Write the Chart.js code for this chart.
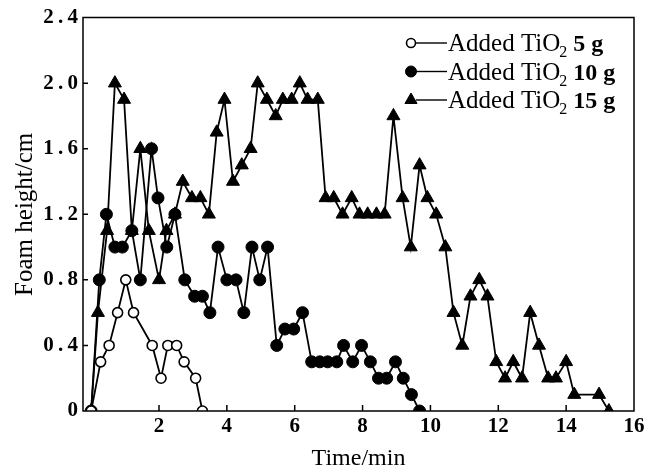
<!DOCTYPE html>
<html>
<head>
<meta charset="utf-8">
<script src="https://cdn.jsdelivr.net/npm/chart.js@4.4.1/dist/chart.umd.min.js"></script>
<style>
  html, body { margin: 0; padding: 0; background: #fff; }
</style>
</head>
<body>
<canvas id="foamChart" width="656" height="474"></canvas>
<script>
// TiO2 5 g
const time5 = [0, 0.28, 0.53, 0.78, 1.02, 1.25, 1.8, 2.06, 2.26, 2.52, 2.74, 3.08, 3.28];
const foam5 = [0, 0.3, 0.4, 0.6, 0.8, 0.6, 0.4, 0.2, 0.4, 0.4, 0.3, 0.2, 0];

// TiO2 10 g
const time10 = [0, 0.24, 0.45, 0.7, 0.92, 1.2, 1.45, 1.78, 1.97, 2.23, 2.47, 2.76, 3.05, 3.28, 3.5,
  3.74, 4.0, 4.27, 4.5, 4.74, 4.97, 5.2, 5.47, 5.71, 5.97, 6.23, 6.5, 6.74, 6.97, 7.24, 7.44,
  7.71, 7.97, 8.23, 8.47, 8.71, 8.97, 9.2, 9.44, 9.68];
const foam10 = [0, 0.8, 1.2, 1.0, 1.0, 1.1, 0.8, 1.6, 1.3, 1.0, 1.2, 0.8, 0.7, 0.7, 0.6,
  1.0, 0.8, 0.8, 0.6, 1.0, 0.8, 1.0, 0.4, 0.5, 0.5, 0.6, 0.3, 0.3, 0.3, 0.3, 0.4,
  0.3, 0.4, 0.3, 0.2, 0.2, 0.3, 0.2, 0.1, 0];

// TiO2 15 g
const time15 = [0, 0.2, 0.47, 0.7, 0.97, 1.2, 1.45, 1.7, 2.0, 2.22, 2.47, 2.7, 2.97, 3.22, 3.47,
  3.7, 3.93, 4.18, 4.44, 4.7, 4.91, 5.18, 5.44, 5.65, 5.91, 6.15, 6.38, 6.68, 6.91, 7.15,
  7.41, 7.68, 7.91, 8.15, 8.41, 8.65, 8.91, 9.18, 9.42, 9.68, 9.91, 10.17, 10.44, 10.68,
  10.94, 11.18, 11.44, 11.68, 11.94, 12.2, 12.44, 12.7, 12.94, 13.2, 13.47, 13.7, 14.0,
  14.24, 14.97, 15.26];
const foam15 = [0, 0.6, 1.1, 2.0, 1.9, 1.1, 1.6, 1.1, 0.8, 1.1, 1.2, 1.4, 1.3, 1.3, 1.2,
  1.7, 1.9, 1.4, 1.5, 1.6, 2.0, 1.9, 1.8, 1.9, 1.9, 2.0, 1.9, 1.9, 1.3, 1.3,
  1.2, 1.3, 1.2, 1.2, 1.2, 1.2, 1.8, 1.3, 1.0, 1.5, 1.3, 1.2, 1.0, 0.6,
  0.4, 0.7, 0.8, 0.7, 0.3, 0.2, 0.3, 0.2, 0.6, 0.4, 0.2, 0.2, 0.3,
  0.1, 0.1, 0];

const seriesAmounts = ['5 g', '10 g', '15 g'];
const xTicks = [2, 4, 6, 8, 10, 12, 14, 16];
const yTicks = [0, 0.4, 0.8, 1.2, 1.6, 2.0, 2.4];

const serif = "'Liberation Serif', 'Times New Roman', serif";

function points(xs, ys) {
  return xs.map((x, i) => ({ x, y: ys[i] }));
}

// box round the plot, inward ticks, and the legend with a subscript in TiO2
const decorPlugin = {
  id: 'plotDecor',
  afterDatasetsDraw(chart) {
    const c = chart.ctx;
    const a = chart.chartArea;
    const sx = chart.scales.x;
    const sy = chart.scales.y;

    c.save();
    c.strokeStyle = '#000';
    c.lineWidth = 1.5;
    c.beginPath();
    c.rect(a.left, a.top, a.right - a.left, a.bottom - a.top);
    yTicks.forEach((v) => {
      const y = sy.getPixelForValue(v);
      c.moveTo(a.left, y);
      c.lineTo(a.left + 5, y);
    });
    xTicks.forEach((v) => {
      const x = sx.getPixelForValue(v);
      c.moveTo(x, a.bottom);
      c.lineTo(x, a.bottom - 6);
    });
    c.stroke();

    chart.data.datasets.forEach((ds, i) => {
      const y = 43 + i * 28.5;
      const mx = 411;
      c.strokeStyle = '#000';
      c.lineWidth = 1.4;
      c.beginPath();
      c.moveTo(mx + 5, y);
      c.lineTo(447, y);
      c.stroke();
      c.fillStyle = ds.pointBackgroundColor;
      c.lineWidth = ds.pointBorderWidth;
      Chart.helpers.drawPoint(c, {
        pointStyle: ds.pointStyle,
        radius: ds.pointRadius - 0.5,
        borderWidth: ds.pointBorderWidth,
        rotation: 0
      }, mx, y);

      c.fillStyle = '#000';
      c.textBaseline = 'alphabetic';
      c.textAlign = 'left';
      let x = 448;
      const base = y + 8;
      c.font = `25px ${serif}`;
      c.fillText('Added TiO', x, base);
      x += c.measureText('Added TiO').width;
      c.font = `16px ${serif}`;
      c.fillText('2', x - 1, base + 6);
      x += c.measureText('2').width + 5;
      c.font = `bold 24px ${serif}`;
      c.fillText(seriesAmounts[i], x, base);
    });
    c.restore();
  }
};

const ctx = document.getElementById('foamChart').getContext('2d');
new Chart(ctx, {
  type: 'scatter',
  data: {
    datasets: [
      {
        label: 'Added TiO2 5 g',
        data: points(time5, foam5),
        showLine: true,
        borderColor: '#000',
        borderWidth: 1.8,
        pointStyle: 'circle',
        pointRadius: 5,
        pointBorderWidth: 1.6,
        pointBackgroundColor: '#fff',
        pointBorderColor: '#000'
      },
      {
        label: 'Added TiO2 10 g',
        data: points(time10, foam10),
        showLine: true,
        borderColor: '#000',
        borderWidth: 1.8,
        pointStyle: 'circle',
        pointRadius: 6,
        pointBorderWidth: 1,
        pointBackgroundColor: '#000',
        pointBorderColor: '#000'
      },
      {
        label: 'Added TiO2 15 g',
        data: points(time15, foam15),
        showLine: true,
        borderColor: '#000',
        borderWidth: 1.8,
        pointStyle: 'triangle',
        pointRadius: 7.5,
        pointBorderWidth: 1,
        pointBackgroundColor: '#000',
        pointBorderColor: '#000'
      }
    ]
  },
  options: {
    responsive: false,
    animation: false,
    layout: { padding: { top: 15, right: 22, left: 0, bottom: 0 } },
    plugins: { legend: { display: false }, tooltip: { enabled: false } },
    scales: {
      x: {
        type: 'linear',
        min: -0.24,
        max: 16,
        afterBuildTicks: (s) => { s.ticks = xTicks.map((v) => ({ value: v })); },
        afterFit: (s) => { s.height = 63; },
        grid: { display: false, drawTicks: false, tickLength: 0 },
        border: { display: false },
        ticks: {
          color: '#000',
          padding: 3,
          font: { family: serif, size: 21, weight: 'bold' },
          callback: (v) => String(v)
        },
        title: {
          display: true,
          text: 'Time/min',
          color: '#000',
          padding: { top: 4, bottom: 1 },
          font: { family: serif, size: 24 }
        }
      },
      y: {
        min: 0,
        max: 2.4,
        afterBuildTicks: (s) => { s.ticks = yTicks.map((v) => ({ value: v })); },
        afterFit: (s) => { s.width = 83; },
        grid: { display: false, drawTicks: false, tickLength: 0 },
        border: { display: false },
        ticks: {
          color: '#000',
          padding: 5,
          font: { family: serif, size: 21, weight: 'bold' },
          callback: (v) => (v === 0 ? '0' : v.toFixed(1).replace('.', '\u2009.\u2009'))
        },
        title: {
          display: true,
          text: 'Foam height/cm',
          color: '#000',
          padding: { top: 10, bottom: 0 },
          font: { family: serif, size: 25 }
        }
      }
    }
  },
  plugins: [decorPlugin]
});
</script>
</body>
</html>
